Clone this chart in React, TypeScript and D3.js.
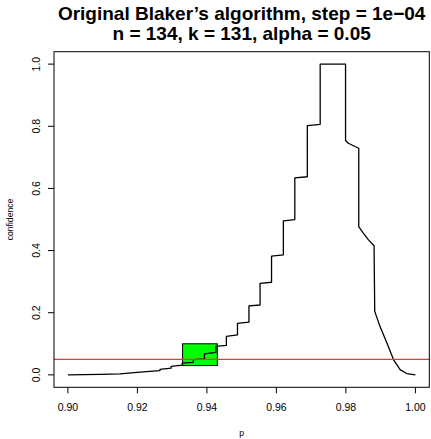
import React from "react";
import * as d3 from "d3";

// Polyline vertices (p, confidence)
const pValues = [
  0.9, 0.9092, 0.915, 0.9199, 0.9236, 0.9265, 0.9265, 0.9297, 0.9297, 0.9329,
  0.9329, 0.9361, 0.9361, 0.9393, 0.9393, 0.9426, 0.9426, 0.9456, 0.9456, 0.9488,
  0.9488, 0.9521, 0.9521, 0.9553, 0.9553, 0.9586, 0.9586, 0.962, 0.962, 0.9653,
  0.9653, 0.9689, 0.9689, 0.9726, 0.9726, 0.9799, 0.9799, 0.9807, 0.9837, 0.9837,
  0.985, 0.9865, 0.9881, 0.9883, 0.9898, 0.9918, 0.9937, 0.9956, 0.9975, 1.0,
];
const confValues = [
  0.0003, 0.0016, 0.0035, 0.008, 0.0112, 0.0138, 0.018, 0.0215, 0.0276, 0.0312,
  0.0379, 0.0402, 0.0491, 0.0514, 0.0675, 0.0726, 0.0919, 0.0951, 0.124, 0.1285,
  0.1654, 0.1696, 0.222, 0.2249, 0.2943, 0.2981, 0.3823, 0.3864, 0.4957, 0.4998,
  0.6341, 0.6376, 0.8024, 0.8063, 1.0, 1.0, 0.7543, 0.7453, 0.7292, 0.4774,
  0.4561, 0.4346, 0.4154, 0.2043, 0.1561, 0.1028, 0.0491, 0.017, 0.0042, 0.0003,
];

const xTicks = [0.9, 0.92, 0.94, 0.96, 0.98, 1.0];
const xTickLabels = ["0.90", "0.92", "0.94", "0.96", "0.98", "1.00"];
const yTicks = [0, 0.2, 0.4, 0.6, 0.8, 1.0];
const yTickLabels = ["0.0", "0.2", "0.4", "0.6", "0.8", "1.0"];

const alphaLevel = 0.05;
const boxP = [0.933, 0.943];
const boxConf = [0.03, 0.1];

const titleLines = [
  "Original Blaker\u2019s algorithm, step = 1e\u221204",
  "n = 134, k = 131, alpha = 0.05",
];
const xLabel = "p";
const yLabel = "confidence";

export default function App() {
  const W = 431;
  const H = 439;
  const left = 54;
  const right = 429.3;
  const top = 51.7;
  const bottom = 387.3;

  const x = d3.scaleLinear().domain([0.896, 1.004]).range([left, right]);
  const y = d3.scaleLinear().domain([-0.04, 1.04]).range([bottom, top]);

  const pts: [number, number][] = pValues.map((p, i) => [p, confValues[i]]);
  const line = d3
    .line<[number, number]>()
    .x((d) => x(d[0]))
    .y((d) => y(d[1]));

  const font = "'Liberation Sans', Arial, Helvetica, sans-serif";
  const tick = 6;
  const cx = (left + right) / 2;
  const cy = (top + bottom) / 2;

  return (
    <svg
      width={W}
      height={H}
      style={{ position: "fixed", left: 0, top: 0, background: "#fff" }}
      fontFamily={font}
    >
      <rect x={0} y={0} width={W} height={H} fill="#fff" />
      {/* title */}
      <text x={cx} y={19.5} textAnchor="middle" fontWeight="bold" fontSize={19}>
        {titleLines[0]}
      </text>
      <text x={cx} y={39.5} textAnchor="middle" fontWeight="bold" fontSize={19}>
        {titleLines[1]}
      </text>

      {/* highlight box */}
      <rect
        x={x(boxP[0])}
        y={y(boxConf[1])}
        width={x(boxP[1]) - x(boxP[0])}
        height={y(boxConf[0]) - y(boxConf[1])}
        fill="#00ff00"
        stroke="#000"
        strokeWidth={1}
      />

      {/* curve */}
      <path d={line(pts) || ""} fill="none" stroke="#000" strokeWidth={1.3} strokeLinejoin="round" />

      {/* alpha line */}
      <line x1={left} x2={right} y1={y(alphaLevel)} y2={y(alphaLevel)} stroke="#ff3030" strokeWidth={1.4} />

      {/* plot box */}
      <rect x={left} y={top} width={right - left} height={bottom - top} fill="none" stroke="#000" strokeWidth={1} />

      {/* x axis ticks */}
      {xTicks.map((t, i) => (
        <g key={"x" + i}>
          <line x1={x(t)} x2={x(t)} y1={bottom} y2={bottom + tick} stroke="#000" />
          <text x={x(t)} y={410.5} textAnchor="middle" fontSize={10.5}>
            {xTickLabels[i]}
          </text>
        </g>
      ))}
      {/* y axis ticks */}
      {yTicks.map((t, i) => (
        <g key={"y" + i}>
          <line x1={left - tick} x2={left} y1={y(t)} y2={y(t)} stroke="#000" />
          <text
            x={0}
            y={0}
            transform={`translate(${39.5},${y(t)}) rotate(-90)`}
            textAnchor="middle"
            fontSize={10.5}
          >
            {yTickLabels[i]}
          </text>
        </g>
      ))}

      <text x={cx} y={435.5} textAnchor="middle" fontSize={8.6}>
        {xLabel}
      </text>
      <text
        x={0}
        y={0}
        transform={`translate(${13},${cy}) rotate(-90)`}
        textAnchor="middle"
        fontSize={8.6}
      >
        {yLabel}
      </text>
    </svg>
  );
}
